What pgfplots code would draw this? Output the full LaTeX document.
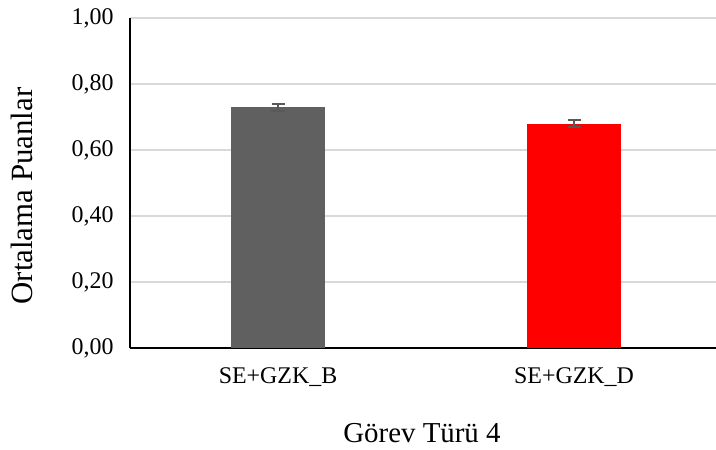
\documentclass[border=0pt]{standalone}
\usepackage{pgfplots}
\pgfplotsset{compat=1.18}
\usepackage{fontspec}
\setmainfont{Liberation Serif}
\definecolor{bargray}{HTML}{606060}
\definecolor{barred}{HTML}{FF0000}
\definecolor{errgray}{HTML}{595959}
\definecolor{gridgray}{HTML}{D9D9D9}
\begin{document}
\begin{tikzpicture}
\begin{axis}[
  at={(0,0)}, anchor=south west,
  scale only axis, width=592bp, height=330bp,
  xmin=-0.5, xmax=1.5, ymin=0, ymax=1,
  xtick={0,1}, xticklabels={SE+GZK\_B, SE+GZK\_D},
  ytick={0,0.2,0.4,0.6,0.8,1},
  yticklabel style={/pgf/number format/fixed, /pgf/number format/fixed zerofill, /pgf/number format/precision=2, /pgf/number format/use comma, font=\fontsize{24}{26}\selectfont, xshift=-13bp},
  /pgf/number format/assume math mode=true,
  xticklabel style={font=\fontsize{24}{26}\selectfont, yshift=-16bp},
  major tick length=0pt,
  axis x line*=bottom, axis y line*=left,
  axis line style={black, line width=2bp},
  ymajorgrids, grid style={gridgray, line width=1.2bp},
  ylabel={Ortalama Puanlar},
  ylabel style={font=\fontsize{31}{33}\selectfont},
  xlabel={Görev Türü 4},
  xlabel style={font=\fontsize{29}{31}\selectfont},
  every axis y label/.append style={at={(-108bp,152bp)}, anchor=center},
  every axis x label/.append style={at={(292bp,-85bp)}, anchor=center},
]
\addplot[ybar, bar width=0.318, fill=bargray, draw=none,
  error bars/.cd, y dir=both, y explicit,
  error bar style={errgray, line width=1.5bp},
  error mark options={rotate=90, mark size=6.5bp, line width=2bp, errgray}]
  coordinates {(0,0.729) +- (0,0.010)};
\addplot[ybar, bar width=0.318, fill=barred, draw=none,
  error bars/.cd, y dir=both, y explicit,
  error bar style={errgray, line width=1.5bp},
  error mark options={rotate=90, mark size=6.5bp, line width=2bp, errgray}]
  coordinates {(1,0.680) +- (0,0.010)};
\end{axis}
\pgfresetboundingbox
\path (-130bp,-102bp) rectangle (586bp,348bp);
\end{tikzpicture}
\end{document}
